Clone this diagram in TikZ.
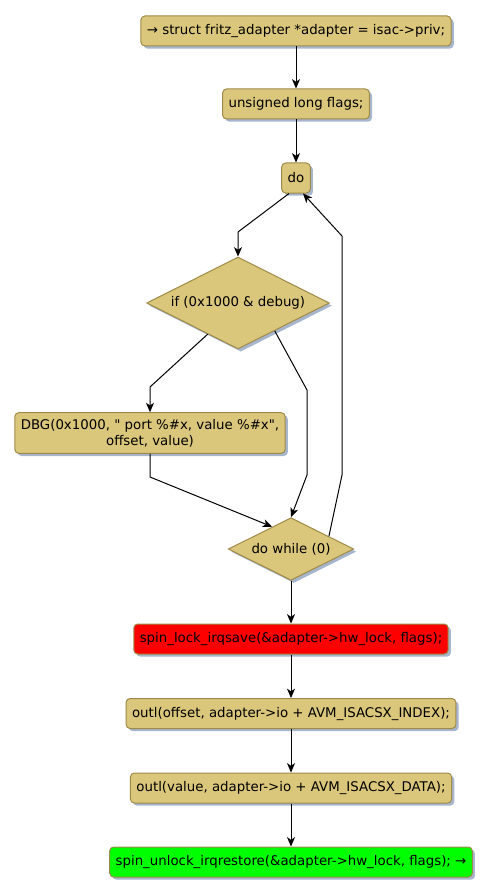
\documentclass[tikz,border=0pt]{standalone}
\usepackage{fontspec}
\setmainfont{DejaVu Sans}[Ligatures=TeXOff]
\usepackage{tikz}
\usetikzlibrary{
  arrows.meta,
  calc,
  shadows,
  shapes.geometric
}
\definecolor{ActFill}{HTML}{DBC77C}
\definecolor{ActLine}{HTML}{9E8A48}
\definecolor{ActShadow}{HTML}{9DAEC8}
\definecolor{ActRed}{HTML}{FF0000}
\definecolor{ActGreen}{HTML}{00FF00}
\tikzset{
  every node/.style = {font=\fontsize{10}{12}\selectfont, text=black},
  action/.style = {
    draw=ActLine,
    fill=ActFill,
    line width=0.75pt,
    rounded corners=3pt,
    minimum height=22.5pt,
    align=center,
    inner xsep=4.5pt,
    drop shadow={shadow xshift=2pt, shadow yshift=-2pt, fill=ActShadow, opacity=0.9}
  },
  action red/.style = {action, fill=ActRed},
  action green/.style = {action, fill=ActGreen},
  branch/.style = {
    diamond,
    aspect=2,
    draw=ActLine,
    fill=ActFill,
    line width=0.75pt,
    inner sep=0pt,
    align=center,
    drop shadow={shadow xshift=2pt, shadow yshift=-2pt, fill=ActShadow, opacity=0.9}
  },
  flow/.style = {-{Stealth[length=7pt,width=6pt,inset=2pt]}, draw=black, line width=0.75pt},
}

\begin{document}
\begin{tikzpicture}[x=0.75pt,y=-0.75pt]
  \useasboundingbox (0,0) rectangle (496,895);

  % actions
  \node[action] (entry) at (296,31) {→ struct fritz\_adapter *adapter = isac->priv;};
  \node[action] (flags) at (296,104) {unsigned long flags;};
  \node[action] (do) at (296,178) {do};
  \node[branch, minimum width=137pt, minimum height=69pt] (ifdbg) at (238,303) {if (0x1000 \& debug)};
  \node[action, minimum height=30.5pt] (dbg) at (150,433)
    {DBG(0x1000, " port \%\#x, value \%\#x",\\offset, value)};
  \node[branch, minimum width=94pt, minimum height=47pt] (dowhile) at (291,549) {do while (0)};
  \node[action red] (lock) at (291,639) {spin\_lock\_irqsave(\&adapter->hw\_lock, flags);};
  \node[action] (outidx) at (291,713.5) {outl(offset, adapter->io + AVM\_ISACSX\_INDEX);};
  \node[action] (outdata) at (291,788) {outl(value, adapter->io + AVM\_ISACSX\_DATA);};
  \node[action green] (unlock) at (291,862) {spin\_unlock\_irqrestore(\&adapter->hw\_lock, flags); →};

  % bend points
  \coordinate (doBend) at (238,232);
  \coordinate (yesBend) at (150,387);
  \coordinate (noBend) at (307,390);
  \coordinate (noDown) at (307,475);
  \coordinate (dbgBend) at (150,477);
  \coordinate (loopLow) at (342,475);
  \coordinate (loopHigh) at (342,236);

  \draw[flow] (entry) -- (flags);
  \draw[flow] (flags) -- (do);
  \draw[flow] ([xshift=-5.25pt]do.south) -- (doBend) -- (ifdbg.north);
  \draw[flow] ($(ifdbg.west)!0.67!(ifdbg.south)$) -- (yesBend) -- (dbg.north);
  \draw[flow] ($(ifdbg.south)!0.4!(ifdbg.east)$) -- (noBend) -- (noDown) -- (dowhile.north);
  \draw[flow] (dbg.south) -- (dbgBend) -- ($(dowhile.north)!0.3!(dowhile.west)$);
  \draw[flow] ($(dowhile.north)!0.6!(dowhile.east)$) -- (loopLow) -- (loopHigh) -- ([xshift=5.25pt]do.south);
  \draw[flow] (dowhile) -- (lock);
  \draw[flow] (lock) -- (outidx);
  \draw[flow] (outidx) -- (outdata);
  \draw[flow] (outdata) -- (unlock);
\end{tikzpicture}
\end{document}
